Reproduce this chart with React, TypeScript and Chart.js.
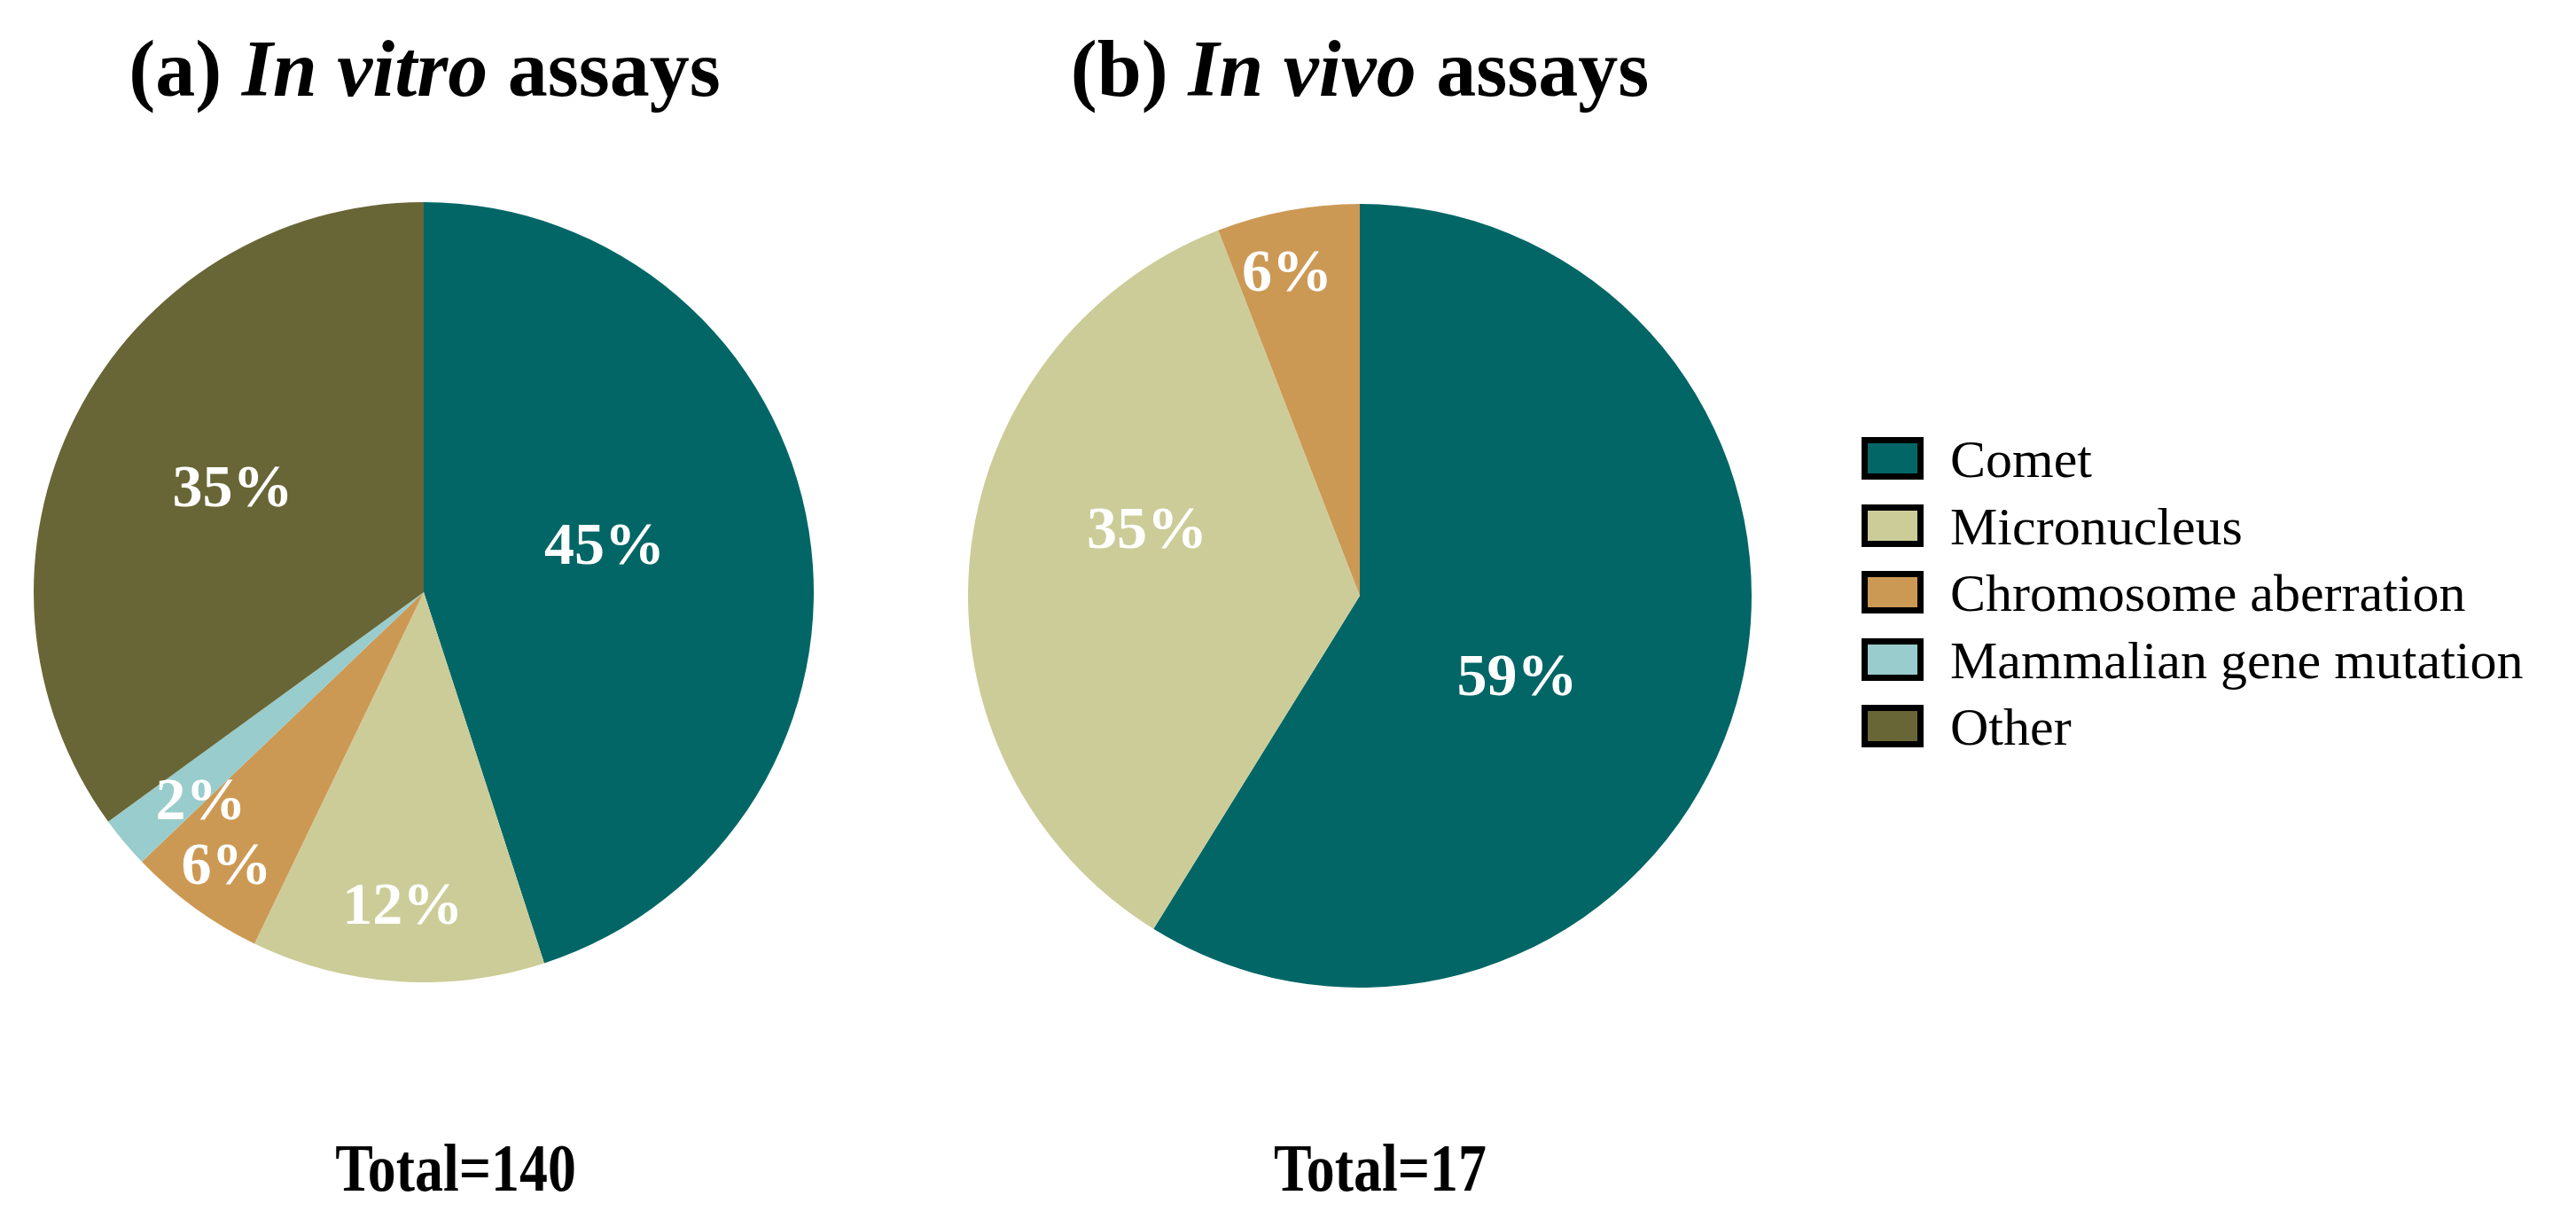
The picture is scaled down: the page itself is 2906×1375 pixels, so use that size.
import React, { useEffect, useRef } from 'react';
import { Chart, registerables } from 'chart.js';

Chart.register(...registerables);

// ---- data ----
const categories = ['Comet', 'Micronucleus', 'Chromosome aberration', 'Mammalian gene mutation', 'Other'];
const inVitroCounts = [63, 17, 8, 3, 49];
const inVivoCounts = [10, 6, 1, 0, 0];
const sliceColors = ['#026666', '#CCCC99', '#CC9955', '#99CCCC', '#686636'];

// ---- label placement (style only) ----
const labelRadiusA = [0.48, 0.8, 0.86, 0.78, 0.56];
const labelShiftA = [-6, 0, 0, -3, 2];
const labelRadiusB = [0.45, 0.57, 0.85, 0, 0];
const labelShiftB = [11, 12.5, -2, 0, 0];

const FONT = "'Liberation Serif', 'Times New Roman', serif";
const BODY = 8;

function makeLabelPlugin(radii: number[], shifts: number[]) {
  return {
    id: 'sliceLabels',
    afterDatasetsDraw(chart: any) {
      const ctx = chart.ctx;
      const meta = chart.getDatasetMeta(0);
      const data: number[] = chart.data.datasets[0].data;
      const total = data.reduce((a, b) => a + b, 0);
      meta.data.forEach((arc: any, i: number) => {
        const v = data[i];
        if (!v) return;
        const p = arc.getProps(['x', 'y', 'startAngle', 'endAngle', 'outerRadius'], true);
        const a = (p.startAngle + p.endAngle) / 2 + (shifts[i] * Math.PI) / 180;
        const r = p.outerRadius * radii[i];
        ctx.save();
        ctx.fillStyle = '#ffffff';
        ctx.font = `bold 68px ${FONT}`;
        ctx.textAlign = 'center';
        ctx.textBaseline = 'middle';
        ctx.fillText(`${Math.round((v / total) * 100)}%`, p.x + Math.cos(a) * r, p.y + Math.sin(a) * r + 5);
        ctx.restore();
      });
    },
  };
}

function Pie(props: { values: number[]; size: number; left: number; top: number; radii: number[]; shifts: number[] }) {
  const ref = useRef<HTMLCanvasElement | null>(null);
  useEffect(() => {
    if (!ref.current) return;
    const chart = new Chart(ref.current, {
      type: 'pie',
      data: {
        labels: categories,
        datasets: [
          {
            data: props.values,
            backgroundColor: sliceColors,
            borderWidth: 0,
            hoverOffset: 0,
            offset: 0,
          },
        ],
      },
      options: {
        responsive: false,
        animation: false,
        events: [],
        layout: { padding: 0 },
        plugins: { legend: { display: false }, tooltip: { enabled: false }, title: { display: false } },
      },
      plugins: [makeLabelPlugin(props.radii, props.shifts)],
    } as any);
    return () => chart.destroy();
  }, []);
  return (
    <canvas
      ref={ref}
      width={props.size}
      height={props.size}
      style={{ position: 'absolute', left: props.left - BODY, top: props.top - BODY, width: props.size, height: props.size }}
    />
  );
}

function Title(props: { cx: number; baseline: number; label: string; italic: string }) {
  const fs = 90;
  const top = props.baseline - Math.round(fs * (0.891 - 0.0535)) - BODY;
  return (
    <div
      style={{
        position: 'absolute',
        left: props.cx - 600 - BODY,
        width: 1200,
        top,
        textAlign: 'center',
        fontFamily: FONT,
        fontWeight: 'bold',
        fontSize: fs,
        lineHeight: 1,
        color: '#000',
        whiteSpace: 'nowrap',
      }}
    >
      {props.label} <i>{props.italic}</i> assays
    </div>
  );
}

function Total(props: { cx: number; baseline: number; values: number[] }) {
  const fs = 76;
  const top = props.baseline - Math.round(fs * (0.891 - 0.0535)) - BODY;
  const total = props.values.reduce((a, b) => a + b, 0);
  return (
    <div
      style={{
        position: 'absolute',
        left: props.cx - 300 - BODY,
        width: 600,
        top,
        textAlign: 'center',
        fontFamily: FONT,
        fontWeight: 'bold',
        fontSize: fs,
        lineHeight: 1,
        color: '#000',
        whiteSpace: 'nowrap',
        transform: 'scaleX(0.84)',
        transformOrigin: 'center',
      }}
    >
      {`Total=${total}`}
    </div>
  );
}

function Legend() {
  const rowStart = 517;
  const rowGap = 75.5;
  const fs = 60;
  return (
    <>
      {categories.map((c, i) => {
        const cy = rowStart + i * rowGap;
        return (
          <React.Fragment key={c}>
            <div
              style={{
                position: 'absolute',
                left: 2100 - BODY,
                top: cy - 24 - BODY,
                width: 70,
                height: 48,
                boxSizing: 'border-box',
                border: '7px solid #000',
                background: sliceColors[i],
              }}
            />
            <div
              style={{
                position: 'absolute',
                left: 2200 - BODY,
                top: cy - fs / 2 - BODY + 1,
                fontFamily: FONT,
                fontSize: fs,
                lineHeight: 1,
                color: '#000',
                whiteSpace: 'nowrap',
              }}
            >
              {c}
            </div>
          </React.Fragment>
        );
      })}
    </>
  );
}

export default function App() {
  return (
    <div style={{ position: 'relative', width: 2890, height: 1359, background: '#fff', overflow: 'hidden' }}>
      <Title cx={479} baseline={108} label="(a)" italic="In vitro" />
      <Title cx={1534} baseline={108} label="(b)" italic="In vivo" />
      <Pie values={inVitroCounts} size={880} left={478 - 440} top={668 - 440} radii={labelRadiusA} shifts={labelShiftA} />
      <Pie values={inVivoCounts} size={884} left={1534 - 442} top={672 - 442} radii={labelRadiusB} shifts={labelShiftB} />
      <Legend />
      <Total cx={514} baseline={1343} values={inVitroCounts} />
      <Total cx={1557} baseline={1343} values={inVivoCounts} />
    </div>
  );
}
